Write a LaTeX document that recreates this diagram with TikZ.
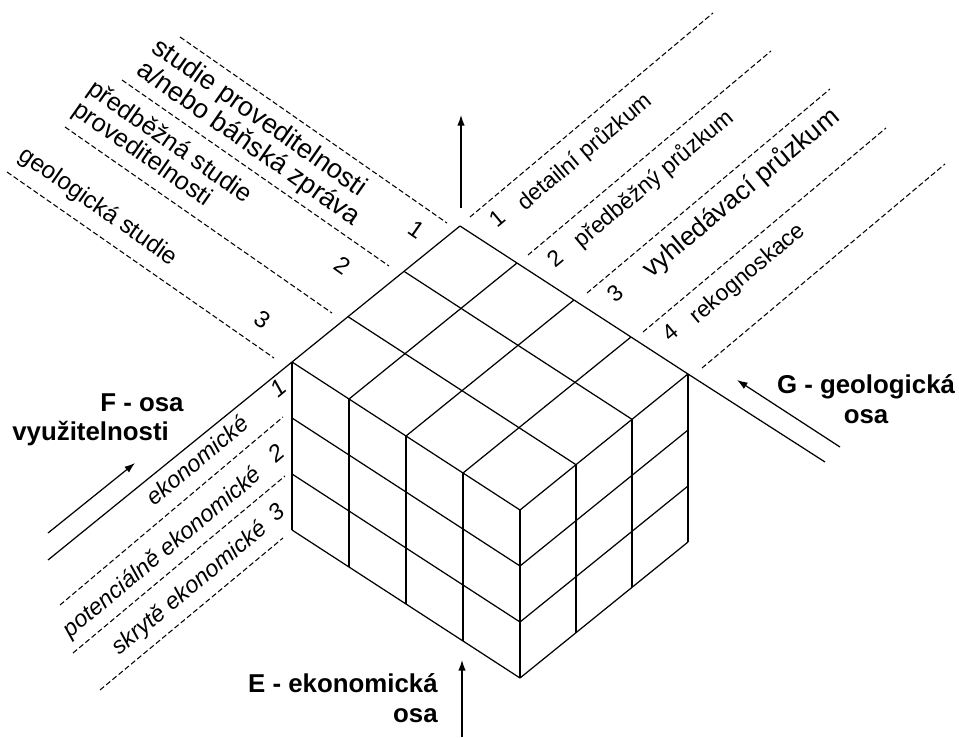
\documentclass[tikz,border=0pt]{standalone}
\usepackage{fontspec}
\setmainfont{Liberation Sans}
\usetikzlibrary{arrows.meta,calc}
\tikzset{
  edge/.style      = {line width=0.7pt},
  divider/.style   = {line width=0.6pt,dash pattern=on 3pt off 1.6pt},
  axis/.style      = {-{Latex[length=6pt,width=4.2pt]},line width=0.7pt},
  category/.style  = {inner sep=0pt,font=\fontsize{13}{15}\selectfont},
  study/.style     = {inner sep=0pt,align=left,rotate=-35,font=\fontsize{15.4}{15.6}\selectfont},
  usability/.style = {inner sep=0pt,rotate=40,font=\itshape\fontsize{13.3}{15}\selectfont},
  axislabel/.style = {inner sep=0pt,font=\bfseries\fontsize{14.7}{17}\selectfont},
}

\begin{document}
\begin{tikzpicture}[x=0.02cm,y=-0.02cm]
\useasboundingbox (0,0) rectangle (959,737);

% cube: left corner L, one cell along the G, F and E axes
\coordinate (L) at (292,362);
\coordinate (g) at (57,37);
\coordinate (f) at (56,-45.33);
\coordinate (e) at (0,56);
\coordinate (B) at ($(L)+3*(f)$);
\coordinate (R) at ($(B)+4*(g)$);

% top face
\foreach \j in {0,...,3}
  \draw[edge] ($(L)+\j*(f)$) -- ++(228,148);
\foreach \i in {0,...,4}
  \draw[edge] ($(L)+\i*(g)$) -- ++(168,-136);
% front left face
\foreach \i in {0,...,4}
  \draw[edge] ($(L)+\i*(g)$) -- ++(0,168);
\foreach \k in {1,...,3}
  \draw[edge] ($(L)+\k*(e)$) -- ++(228,148);
% front right face
\foreach \j in {1,...,3}
  \draw[edge] ($(L)+4*(g)+\j*(f)$) -- ++(0,168);
\foreach \k in {1,...,3}
  \draw[edge] ($(L)+4*(g)+\k*(e)$) -- ++(168,-136);

% edges running on past the cube
\coordinate (Gend) at (825,462);
\coordinate (Fend) at (48,560);
\draw[edge] (R) -- (Gend);
\draw[edge] (L) -- (Fend);

% axis arrows
\coordinate (Ftail) at (48,533);
\coordinate (Fhead) at (135,463);
\coordinate (Gtail) at (840,447);
\coordinate (Ghead) at (737,380);
\coordinate (Etail) at (462,737);
\coordinate (Ehead) at (462,660);
\coordinate (Utail) at (461,208);
\coordinate (Uhead) at (461,115);
\draw[axis] (Ftail) -- (Fhead);
\draw[axis] (Gtail) -- (Ghead);
\draw[axis] (Etail) -- (Ehead);
\draw[axis] (Utail) -- (Uhead);

% dashed dividers
\foreach \x/\y in {180/37,122/80,65/127,7/172}
  \draw[divider] (\x,\y) -- ++(267,186);
\foreach \x/\y in {470/217,528/255,587/293,643/332,702/368}
  \draw[divider] (\x,\y) -- ++(243,-204);
\foreach \x/\y/\u/\v in {60/605/283/417,73/653/285/476,100/690/283/538}
  \draw[divider] (\x,\y) -- (\u,\v);

% G axis: exploration stages
\foreach \n/\x/\y in {1/497/218,2/555/258,3/615/293,4/670/332}
  \node[category,rotate=40] (gnum\n) at (\x,\y) {\n};
\node[category,rotate=40] (detail) at (585,152) {detailní průzkum};
\node[category,rotate=40] (prelim) at (654,179) {předběžný průzkum};
\node[category,rotate=40,font=\fontsize{15}{17}\selectfont] (search) at (741,193) {vyhledávací průzkum};
\node[category,rotate=40] (recon) at (748,274) {rekognoskace};

% studies
\foreach \n/\x/\y in {1/417/230,2/343/265,3/263/320}
  \node[category,rotate=-35,font=\fontsize{13.5}{15}\selectfont] (snum\n) at (\x,\y) {\n};
\node[study] (feas) at (256,133) {studie proveditelnosti\\a/nebo báňská zpráva};
\node[study,font=\fontsize{14.4}{14.6}\selectfont] (prefeas) at (162,153) {předběžná studie\\proveditelnosti};
\node[study,font=\fontsize{13.8}{15}\selectfont] (geostudy) at (98,207) {geologická studie};

% F axis: economic classes
\foreach \n/\x/\y in {1/278/388,2/276/453,3/276/512}
  \node[usability] (fnum\n) at (\x,\y) {\n};
\node[usability] (econ) at (197,460) {ekonomické};
\node[usability] (poten) at (163,553) {potenciálně ekonomické};
\node[usability] (hidden) at (190,589) {skrytě ekonomické};

% axis names
\node[axislabel,align=left,anchor=north west] (Flabel) at (12,393) {\hspace*{1.76cm}F - osa\\využitelnosti};
\node[axislabel,align=center,anchor=north] (Glabel) at (866,374) {G - geologická\\osa};
\node[axislabel,align=right,anchor=north east] (Elabel) at (438,673) {E - ekonomická\\osa};
\end{tikzpicture}
\end{document}
